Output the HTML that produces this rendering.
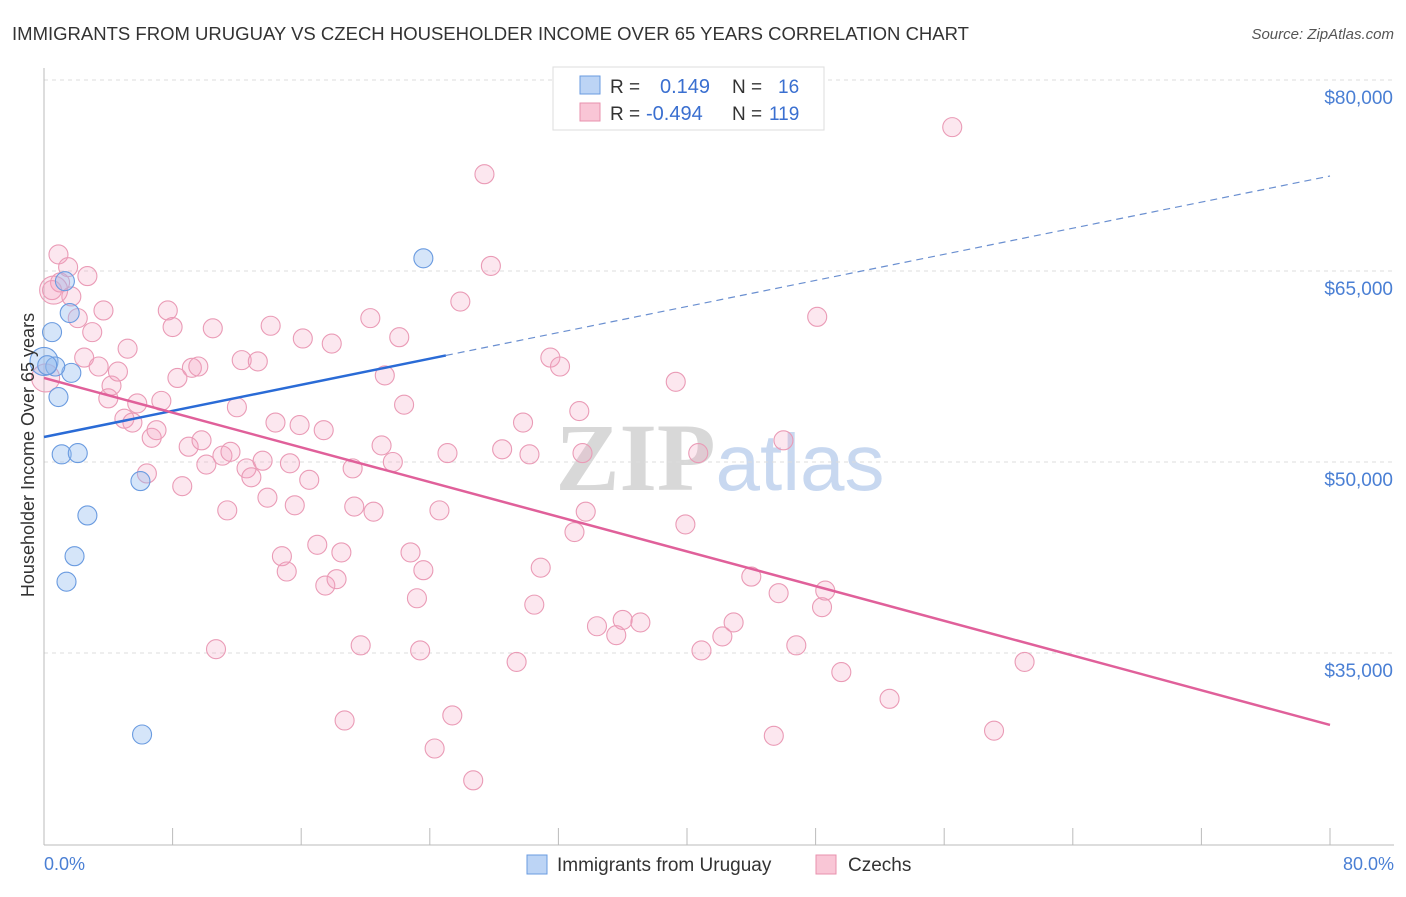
<!DOCTYPE html>
<html><head><meta charset="utf-8"><style>
body{margin:0;background:#fff;font-family:"Liberation Sans",sans-serif}
</style></head><body>
<svg width="1406" height="892" xmlns="http://www.w3.org/2000/svg" font-family="Liberation Sans, sans-serif">
<text x="12" y="40" font-size="18" fill="#333" textLength="957" lengthAdjust="spacingAndGlyphs">IMMIGRANTS FROM URUGUAY VS CZECH HOUSEHOLDER INCOME OVER 65 YEARS CORRELATION CHART</text>
<text x="1394" y="39" font-size="15" fill="#555" text-anchor="end" font-style="italic">Source: ZipAtlas.com</text>
<text x="720" y="490" font-size="96" text-anchor="middle" font-family="Liberation Serif, serif"><tspan fill="#d8d8d8" font-weight="bold">ZIP</tspan><tspan fill="#c8d8f0" font-family="Liberation Sans, sans-serif" font-size="80">atlas</tspan></text>
<g id="grid"></g>
<g id="axes"></g>
<g id="marks"></g>
<text transform="translate(34,455) rotate(-90)" font-size="18" fill="#333" text-anchor="middle">Householder Income Over 65 years</text>
<text x="44" y="870" font-size="18" fill="#4a7fd4">0.0%</text>
<text x="1394" y="870" font-size="18" fill="#4a7fd4" text-anchor="end">80.0%</text>
<g>
<rect x="553" y="67" width="271" height="63" fill="#fff" stroke="#ddd"/>
<rect x="580" y="76" width="20" height="18" fill="#bcd4f5" stroke="#6a9be0"/>
<rect x="580" y="103" width="20" height="18" fill="#f9c6d6" stroke="#e891ae"/>
<text x="610" y="93" font-size="19" fill="#333">R =  <tspan fill="#3a6fd0" x="660" font-size="20">0.149</tspan><tspan x="732">N =</tspan><tspan fill="#3a6fd0" x="778">16</tspan></text>
<text x="610" y="120" font-size="19" fill="#333">R = <tspan fill="#3a6fd0" x="646" font-size="20">-0.494</tspan><tspan x="732">N =</tspan><tspan fill="#3a6fd0" x="769">119</tspan></text>
</g>
<g>
<rect x="527" y="855" width="20" height="19" fill="#bcd4f5" stroke="#6a9be0"/>
<text x="557" y="871" font-size="19" fill="#333">Immigrants from Uruguay</text>
<rect x="816" y="855" width="20" height="19" fill="#f9c6d6" stroke="#e891ae"/>
<text x="848" y="871" font-size="19" fill="#333">Czechs</text>
</g>
</svg>
<script>
const yTicks=[80000,65000,50000,35000];
const yTickLabels=["$80,000","$65,000","$50,000","$35,000"];
const xTicks=[0,10,20,30,40,50,60,70,80,90,100].map(v=>v*0.8);
const blueX=[0.0,0.5,0.9,1.1,1.3,1.4,1.6,1.7,1.9,2.1,2.7,6.0,6.1,23.6,0.7,0.2];
const blueY=[57900,60200,55100,50600,64200,40600,61700,57000,42600,50700,45800,48500,28600,66000,57500,57600];
const pinkX=[0.9,0.5,1.0,1.5,1.7,2.1,2.7,3.0,2.5,3.4,3.7,4.2,4.0,4.6,5.2,5.0,5.5,5.8,6.4,6.7,7.0,7.3,7.7,8.0,8.3,8.6,9.0,9.2,9.6,9.8,10.1,10.5,10.7,11.1,11.4,11.6,12.0,12.3,12.6,12.9,13.3,13.6,13.9,14.1,14.4,14.8,15.1,15.3,15.6,15.9,16.1,16.5,17.0,17.4,17.5,17.9,18.2,18.5,18.7,19.2,19.3,19.7,20.3,20.5,21.0,21.2,21.7,22.1,22.4,22.8,23.2,23.4,23.6,24.3,24.6,25.1,25.4,25.9,26.7,27.4,27.8,28.5,29.4,30.2,30.5,30.9,29.8,31.5,32.1,33.3,33.5,33.7,33.0,34.4,35.6,36.0,37.1,39.3,39.9,40.7,40.9,42.2,42.9,44.0,45.4,45.7,46.0,46.8,48.1,48.4,48.6,49.6,52.6,56.5,59.1,61.0,0.1,0.6];
const pinkY=[66300,63500,64100,65300,63000,61300,64600,60200,58200,57500,61900,56000,55000,57100,58900,53400,53100,54600,49100,51900,52500,54800,61900,60600,56600,48100,51200,57400,57500,51700,49800,60500,35300,50500,46200,50800,54300,58000,49500,48800,57900,50100,47200,60700,53100,42600,41400,49900,46600,52900,59700,48600,43500,52500,40300,59300,40800,42900,29700,49500,46500,35600,61300,46100,51300,56800,50000,59800,54500,42900,39300,35200,41500,27500,46200,50700,30100,62600,25000,72600,65400,51000,34300,50600,38800,41700,53100,58200,57500,54000,50700,46100,44500,37100,36400,37600,37400,56300,45100,50700,35200,36300,37400,41000,28500,39700,51700,35600,61400,38600,39900,33500,31400,76300,28900,34300,56600,63500];
const blueBig=[0]; const pinkBig=[116,117];
const blueFit=[51965,72460], blueSolidEnd=25;
const pinkFit=[56600,29350];
const NS="http://www.w3.org/2000/svg";
const X0=44,X1=1330,Y80=80,PPD=191/15000;
const sx=v=>X0+(v/80)*(X1-X0);
const sy=v=>Y80+(80000-v)*PPD;
function mk(t,a,p){const e=document.createElementNS(NS,t);for(const k in a)e.setAttribute(k,a[k]);p.appendChild(e);return e;}
const grid=document.getElementById('grid'),axes=document.getElementById('axes'),marks=document.getElementById('marks');
yTicks.forEach((v,i)=>{
 const l=mk('line',{x1:X0,x2:1394,y1:sy(v),y2:sy(v),stroke:'#ddd','stroke-dasharray':'4,4'},grid);
 
 
 const t=mk('text',{x:1393,y:sy(v)+24,'font-size':19,fill:'#4a7fd4','text-anchor':'end'},axes);
 t.textContent=yTickLabels[i];
 
 
});
const ax=mk('line',{x1:X0,x2:X0,y1:68,y2:845,stroke:'#bbb'},axes);


const bx=mk('line',{x1:X0,x2:1394,y1:845,y2:845,stroke:'#bbb'},axes);


xTicks.forEach(v=>{if(v>80)return;
 const t=mk('line',{x1:sx(v),x2:sx(v),y1:828,y2:845,stroke:'#bbb'},axes);
 
 
});
function dots(xs,ys,big,fill,stroke,name){
 xs.forEach((x,i)=>{
  const c=mk('circle',{cx:sx(x),cy:sy(ys[i]),r:big.includes(i)?14:9.5,fill:fill,stroke:stroke,'stroke-width':1.1},marks);
  
  
 });
}
dots(pinkX,pinkY,pinkBig,'rgba(244,160,190,0.25)','#ea9bb6','czech-point');
dots(blueX,blueY,blueBig,'rgba(150,190,240,0.4)','#6a9be0','uruguay-point');
const bs=blueFit[0]+(blueFit[1]-blueFit[0])*blueSolidEnd/80;
const l1=mk('line',{x1:sx(0),y1:sy(blueFit[0]),x2:sx(blueSolidEnd),y2:sy(bs),stroke:'#2a6bd6','stroke-width':2.5},marks);


const l2=mk('line',{x1:sx(blueSolidEnd),y1:sy(bs),x2:sx(80),y2:sy(blueFit[1]),stroke:'#6a8fd0','stroke-width':1.2,'stroke-dasharray':'7,5'},marks);


const l3=mk('line',{x1:sx(0),y1:sy(pinkFit[0]),x2:sx(80),y2:sy(pinkFit[1]),stroke:'#e0609a','stroke-width':2.5},marks);


</script>
</body></html>
